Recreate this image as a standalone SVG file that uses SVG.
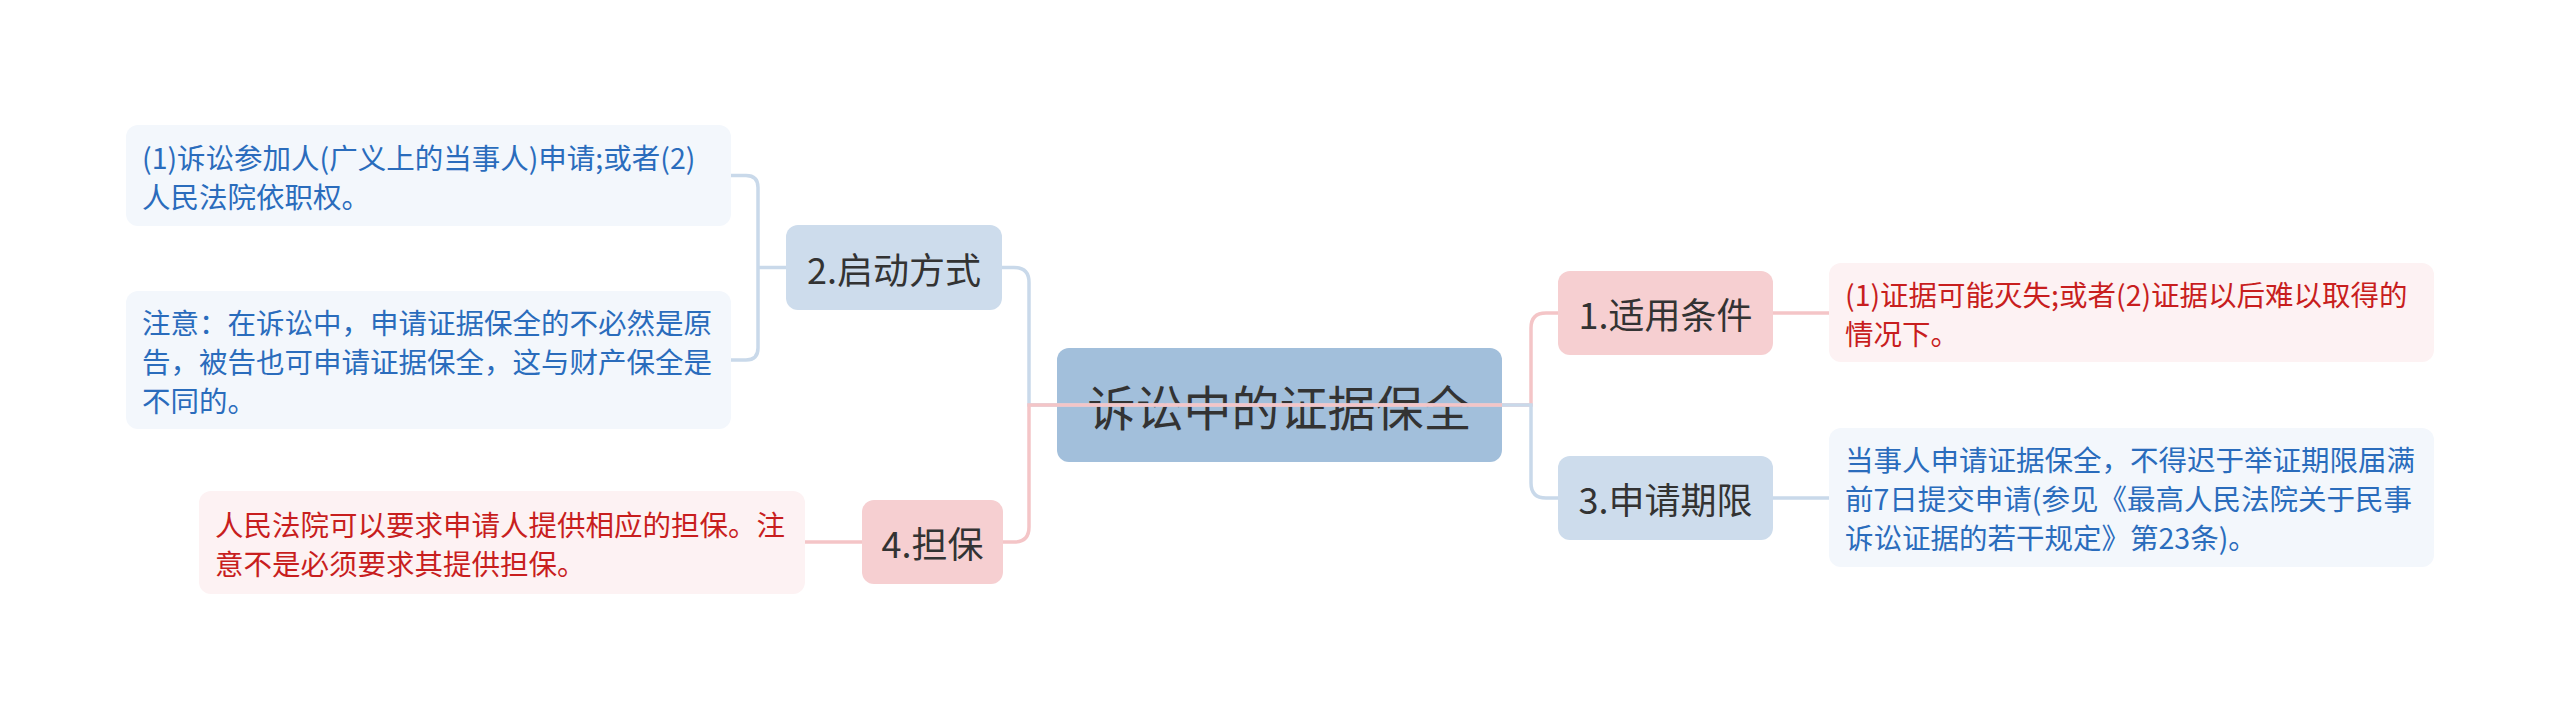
<svg xmlns="http://www.w3.org/2000/svg" width="2560" height="720" viewBox="0 0 2560 720">
<style>
text{font-family:"Noto Sans CJK SC","Noto Sans",sans-serif;}
.root{fill:#a2bfdb;}
.cb{fill:#cddcec;}
.cp{fill:#f6cfd1;}
.lb{fill:#f3f7fc;}
.lp{fill:#fdf2f3;}
.tr{font-size:48px;fill:#333333;text-anchor:middle;dominant-baseline:central;}
.tc{font-size:36px;fill:#333333;text-anchor:middle;dominant-baseline:central;}
.tlb{font-size:28.5px;fill:#2a6cbc;dominant-baseline:central;}
.tlp{font-size:28.5px;fill:#c81e1e;dominant-baseline:central;}
.eb{fill:none;stroke:#c9d9ea;stroke-width:3.5;}
.ep{fill:none;stroke:#f4c5c7;stroke-width:3.5;}
</style>
<rect width="2560" height="720" fill="#ffffff"/>
<g id="root">
<rect class="root" x="1057" y="348" width="445" height="114" rx="12"/>
<text class="tr" x="1279.5" y="405">诉讼中的证据保全</text>
</g>
<g id="n2">
<rect class="cb" x="786" y="225" width="216" height="85" rx="12"/>
<text class="tc" x="894" y="267.5">2.启动方式</text>
</g>
<g id="n4">
<rect class="cp" x="862" y="500" width="141" height="84" rx="12"/>
<text class="tc" x="932.5" y="542">4.担保</text>
</g>
<g id="n1">
<rect class="cp" x="1558" y="271" width="215" height="84" rx="12"/>
<text class="tc" x="1665.5" y="313">1.适用条件</text>
</g>
<g id="n3">
<rect class="cb" x="1558" y="456" width="215" height="84" rx="12"/>
<text class="tc" x="1665.5" y="498">3.申请期限</text>
</g>
<g id="leafA">
<rect class="lb" x="126" y="125" width="605" height="101" rx="12"/>
<text class="tlb" x="142" y="156">(1)诉讼参加人(广义上的当事人)申请;或者(2)</text>
<text class="tlb" x="142" y="195">人民法院依职权。</text>
</g>
<g id="leafC">
<rect class="lb" x="126" y="291" width="605" height="138" rx="12"/>
<text class="tlb" x="142" y="321">注意：在诉讼中，申请证据保全的不必然是原</text>
<text class="tlb" x="142" y="360">告，被告也可申请证据保全，这与财产保全是</text>
<text class="tlb" x="142" y="399">不同的。</text>
</g>
<g id="leafD">
<rect class="lp" x="199" y="491" width="606" height="103" rx="12"/>
<text class="tlp" x="215" y="523">人民法院可以要求申请人提供相应的担保。注</text>
<text class="tlp" x="215" y="562">意不是必须要求其提供担保。</text>
</g>
<g id="leafB">
<rect class="lp" x="1829" y="263" width="605" height="99" rx="12"/>
<text class="tlp" x="1845" y="293">(1)证据可能灭失;或者(2)证据以后难以取得的</text>
<text class="tlp" x="1845" y="332">情况下。</text>
</g>
<g id="leafE">
<rect class="lb" x="1829" y="428" width="605" height="139" rx="12"/>
<text class="tlb" x="1845" y="458.5">当事人申请证据保全，不得迟于举证期限届满</text>
<text class="tlb" x="1845" y="497.5">前7日提交申请(参见《最高人民法院关于民事</text>
<text class="tlb" x="1845" y="536.5">诉讼证据的若干规定》第23条)。</text>
</g>
<g id="connectors">
<path class="eb" d="M1502 405H1029V282.5Q1029 267.5 1014 267.5H1002"/>
<path class="ep" d="M1502 405H1029V527Q1029 542 1014 542H1003"/>
<path class="ep" d="M1502 405H1531V328Q1531 313 1546 313H1558"/>
<path class="eb" d="M1502 405H1531V483Q1531 498 1546 498H1558"/>
<path class="eb" d="M731 175.5H746Q758 175.5 758 187.5V348Q758 360 746 360H731M758 267.5H786"/>
<path class="ep" d="M862 542H805"/>
<path class="ep" d="M1773 313H1829"/>
<path class="eb" d="M1773 498H1829"/>
</g>
</svg>
